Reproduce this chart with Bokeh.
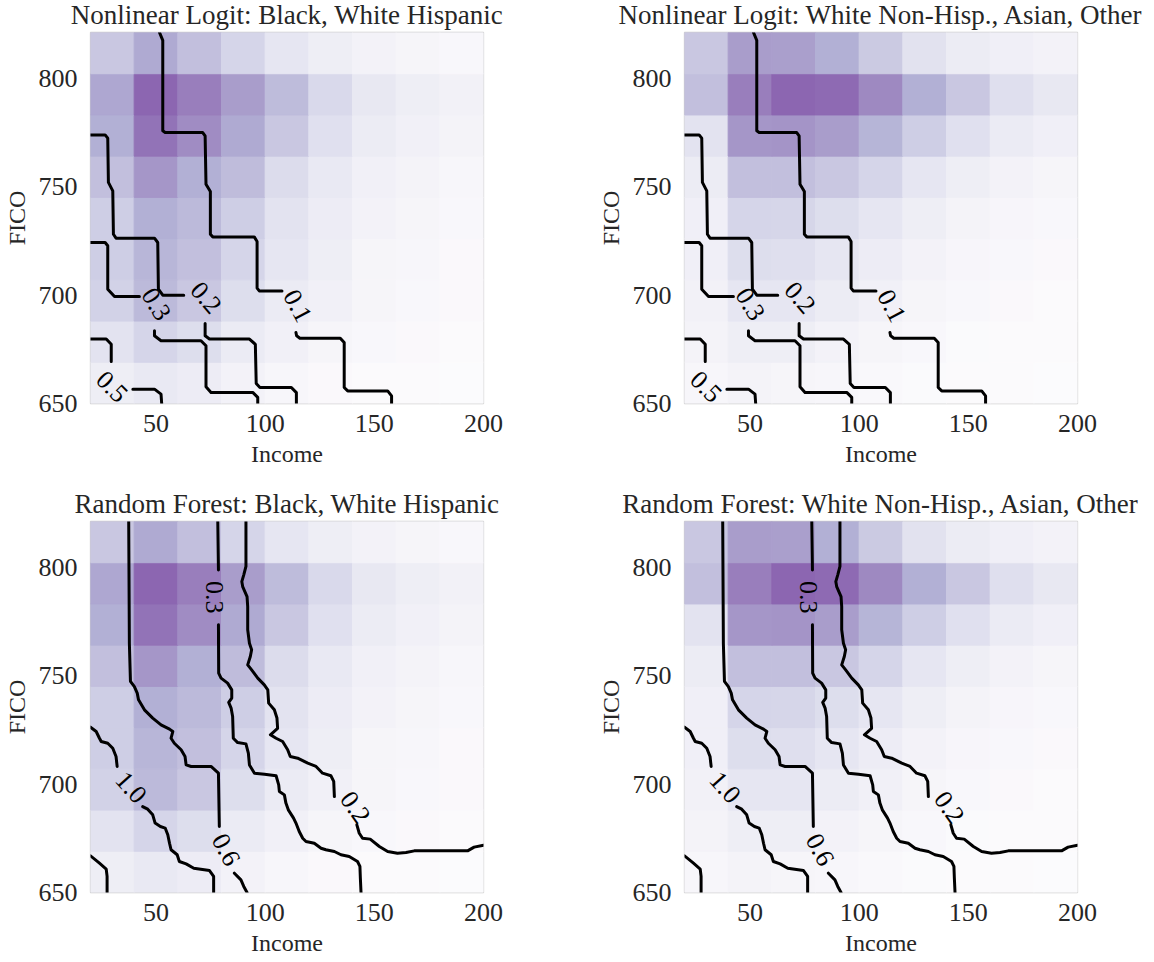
from bokeh.plotting import figure
from bokeh.models import Range1d, FixedTicker, ColumnDataSource, LinearColorMapper
from bokeh.transform import transform
from bokeh.layouts import gridplot
from bokeh.palettes import Purples256
from bokeh.embed import file_html
from bokeh.resources import INLINE
from bokeh.core.properties import value

# ---------------- data ----------------
income_edges = [20, 40, 60, 80, 100, 120, 140, 160, 180, 200]
fico_edges = [650, 669, 688, 707, 726, 745, 764, 783, 802, 821]
income_ticks = [50, 100, 150, 200]
fico_ticks = [650, 700, 750, 800]

# normalised density, rows from FICO 650 (bottom) to 821 (top), columns income 20..200
density_black_hisp = [
    [0.20, 0.25, 0.21, 0.15, 0.10, 0.06, 0.04, 0.04, 0.03],
    [0.29, 0.39, 0.33, 0.23, 0.17, 0.12, 0.08, 0.06, 0.04],
    [0.41, 0.56, 0.47, 0.33, 0.23, 0.17, 0.12, 0.08, 0.06],
    [0.43, 0.59, 0.52, 0.39, 0.27, 0.20, 0.12, 0.10, 0.06],
    [0.43, 0.63, 0.56, 0.43, 0.29, 0.21, 0.15, 0.12, 0.08],
    [0.52, 0.75, 0.63, 0.54, 0.34, 0.25, 0.17, 0.14, 0.10],
    [0.63, 0.93, 0.80, 0.66, 0.47, 0.31, 0.22, 0.17, 0.14],
    [0.67, 1.00, 0.87, 0.72, 0.55, 0.36, 0.26, 0.20, 0.16],
    [0.47, 0.66, 0.52, 0.39, 0.27, 0.20, 0.15, 0.12, 0.08],
]
density_white_asian = [
    [0.10, 0.14, 0.12, 0.10, 0.07, 0.05, 0.04, 0.04, 0.03],
    [0.14, 0.20, 0.20, 0.15, 0.12, 0.08, 0.05, 0.04, 0.04],
    [0.16, 0.27, 0.27, 0.22, 0.17, 0.12, 0.08, 0.06, 0.04],
    [0.18, 0.33, 0.32, 0.27, 0.21, 0.15, 0.11, 0.08, 0.06],
    [0.18, 0.39, 0.38, 0.33, 0.27, 0.20, 0.14, 0.11, 0.08],
    [0.22, 0.52, 0.52, 0.47, 0.39, 0.27, 0.20, 0.15, 0.12],
    [0.29, 0.75, 0.76, 0.72, 0.60, 0.43, 0.31, 0.23, 0.18],
    [0.52, 0.87, 1.00, 0.98, 0.82, 0.63, 0.47, 0.32, 0.26],
    [0.47, 0.72, 0.71, 0.63, 0.46, 0.30, 0.22, 0.18, 0.15],
]

# Nonlinear logit contours (income, FICO), each level split where its label sits
logit_c01_income = [[51.6, 53.1, 53.1, 54.2, 71.4, 72.5, 72.9, 74.9, 74.9, 76.0, 95.0, 96.3, 96.3, 97.3, 107.7],
                    [114.1, 114.4, 115.9, 134.4, 136.2, 136.2, 137.8, 156.1, 157.9, 157.9]]
logit_c01_fico = [[821, 817.4, 775.7, 774.9, 774.9, 773.4, 751.1, 747.7, 728.0, 726.8, 726.8, 724.7, 703.2, 701.9, 701.9],
                  [682.7, 681.2, 680.1, 680.1, 678.1, 657.4, 655.8, 655.8, 653.5, 650]]
logit_c02_income = [[20, 26.7, 27.9, 28.2, 30.2, 30.5, 31.7, 49.3, 50.8, 51.1, 53.1, 62.7],
                    [72.5, 72.5, 74.5, 92.8, 95.5, 95.9, 97.6, 112.0, 114.3, 114.3]]
logit_c02_fico = [[773.8, 773.8, 772.3, 751.9, 748.0, 728.0, 726.2, 726.2, 724.2, 702.7, 699.9, 699.9],
                  [686.9, 681.2, 679.7, 679.7, 677.3, 659.2, 657.4, 657.4, 655.0, 650]]
logit_c03_income = [[20, 26.7, 27.9, 27.9, 31.0, 42.4],
                    [49.3, 49.3, 52.3, 70.6, 72.9, 72.9, 75.2, 94.3, 96.6, 96.6]]
logit_c03_fico = [[724.2, 724.2, 722.7, 702.7, 699.3, 699.3],
                  [683.5, 681.2, 678.9, 678.9, 676.6, 657.7, 655.1, 655.1, 652.8, 650]]
logit_c05_income = [[20, 27.2, 29.5, 29.5], [39.4, 49.3, 52.3, 52.6]]
logit_c05_fico = [[679.7, 679.7, 677.3, 669.4], [656.6, 656.6, 654.3, 650]]
logit_label_text = ["0.1", "0.2", "0.3", "0.5"]
logit_label_income = [114.9, 72.9, 50.1, 29.8]
logit_label_fico = [695.0, 698.8, 695.8, 657.7]
logit_label_angle = [-62, -49, -58, -45]

# Random forest contours
rf_c02_income = [[91.2, 91.2, 90.2, 89.3, 89.7, 91.7, 92.0, 92.0, 92.8, 93.8, 93.2, 92.0, 93.8, 96.6, 99.6, 101.2,
                  101.6, 104.2, 105.4, 105.7, 102.4, 105.0, 108.0, 110.3, 111.5, 114.9, 119.5, 123.3, 126.3, 130.1,
                  131.4, 131.7],
                 [142.0, 143.1, 144.6, 148.1, 152.3, 156.1, 160.6, 164.5, 168.3, 192.7, 195.7, 200]]
rf_c02_fico = [[821, 800.3, 796.4, 793.3, 791.0, 786.4, 781.8, 771.1, 764.9, 761.9, 758.8, 754.9, 752.6, 748.8, 745.7,
                743.4, 737.3, 734.2, 730.4, 725.7, 722.7, 721.1, 719.6, 715.8, 712.7, 711.9, 709.6, 708.1, 705.0,
                703.8, 701.2, 694.2],
               [681.2, 677.3, 675.0, 674.6, 671.2, 668.9, 668.1, 668.4, 669.2, 669.2, 670.9, 671.8]]
rf_c03_income = [[78.3, 78.6],
                 [78.6, 78.7, 79.8, 82.8, 84.7, 84.7, 83.3, 84.4, 85.1, 85.4, 87.4, 91.2, 92.3, 92.8, 95.1, 99.7,
                  105.0, 106.2, 106.5, 108.8, 109.5, 110.6, 113.0, 114.1, 115.6, 117.2, 118.7, 122.5, 125.6, 127.8,
                  131.7, 134.7, 138.5, 142.3, 143.4, 143.6, 143.9]]
rf_c03_fico = [[821, 798.7],
               [773.4, 751.1, 748.8, 746.5, 743.4, 739.6, 737.6, 735.0, 731.1, 721.1, 719.1, 718.5, 714.2, 708.8,
                705.0, 704.5, 703.8, 699.6, 696.6, 695.0, 691.2, 688.1, 684.3, 682.0, 678.1, 675.0, 673.5, 672.7,
                670.4, 669.7, 668.9, 667.4, 666.6, 664.3, 662.0, 656.6, 650]]
rf_c06_income = [[37.5, 37.8, 38.3, 40.1, 41.4, 42.0, 44.7, 48.5, 52.3, 56.2, 57.7, 56.9, 58.4, 61.5, 63.3, 63.8,
                  66.1, 75.2, 78.6, 79.0],
                 [85.9, 88.9, 90.2, 91.7]]
rf_c06_fico = [[821, 764.9, 747.3, 744.9, 741.9, 738.8, 734.2, 730.4, 727.3, 725.3, 724.2, 721.1, 718.8, 715.8,
                712.7, 708.8, 708.1, 708.1, 705.0, 680.4],
               [658.9, 655.8, 652.8, 650]]
rf_c10_income = [[20, 22.6, 24.1, 24.9, 27.9, 30.2, 31.7, 32.2],
                 [43.9, 46.2, 48.5, 49.6, 52.0, 54.2, 55.4, 56.2, 56.9, 59.7, 60.7, 63.8, 67.3, 74.5, 76.4, 76.4]]
rf_c10_fico = [[726.2, 724.2, 721.1, 719.6, 718.8, 716.5, 712.7, 708.1],
               [689.6, 688.4, 685.8, 682.0, 680.4, 679.7, 676.6, 672.7, 669.7, 667.4, 664.3, 663.2, 661.2, 660.1,
                657.4, 650]]
rf_c_high_income = [[20, 24.1, 27.2, 27.6, 27.6]]
rf_c_high_fico = [[666.9, 663.5, 660.8, 657.4, 650]]
rf_label_text = ["0.2", "0.3", "0.6", "1.0"]
rf_label_income = [141.3, 76.7, 82.1, 38.6]
rf_label_fico = [689.2, 786.1, 669.7, 698.4]
rf_label_angle = [-55, -90, -62, -48]

titles = [
    "Nonlinear Logit: Black, White Hispanic",
    "Nonlinear Logit: White Non-Hisp., Asian, Other",
    "Random Forest: Black, White Hispanic",
    "Random Forest: White Non-Hisp., Asian, Other",
]

# ---------------- style ----------------
FONT = "Liberation Serif"
TEXT = "#262626"
TITLE_PANEL = 38   # measured height of the title band (27px text + standoff)
SHIFT = 6          # pull the whole grid up so that frames start at y=32


def blend(hexcol, alpha=0.6):
    r, g, b = int(hexcol[1:3], 16), int(hexcol[3:5], 16), int(hexcol[5:7], 16)
    f = lambda c: int(round(alpha * c + (1 - alpha) * 255))
    return "#%02x%02x%02x" % (f(r), f(g), f(b))


palette = [blend(c) for c in Purples256[::-1]]
mapper = LinearColorMapper(palette=palette, low=0, high=1)

logit_income = logit_c01_income + logit_c02_income + logit_c03_income + logit_c05_income
logit_fico = logit_c01_fico + logit_c02_fico + logit_c03_fico + logit_c05_fico
rf_income = rf_c02_income + rf_c03_income + rf_c06_income + rf_c10_income + rf_c_high_income
rf_fico = rf_c02_fico + rf_c03_fico + rf_c06_fico + rf_c10_fico + rf_c_high_fico


def make_panel(title, density, c_income, c_fico, l_text, l_inc, l_fico, l_ang,
               width, height, b_right, b_bottom):
    p = figure(width=width, height=height, output_backend="svg", toolbar_location=None,
               x_range=Range1d(income_edges[0], income_edges[-1]),
               y_range=Range1d(fico_edges[0], fico_edges[-1]),
               min_border_left=89, min_border_right=b_right, min_border_top=TITLE_PANEL,
               min_border_bottom=b_bottom,
               background_fill_color="white", border_fill_color="white")
    left, right, bottom, top, dens = [], [], [], [], []
    for r in range(len(fico_edges) - 1):
        for c in range(len(income_edges) - 1):
            left.append(income_edges[c]); right.append(income_edges[c + 1])
            bottom.append(fico_edges[r]); top.append(fico_edges[r + 1])
            dens.append(density[r][c])
    src = ColumnDataSource(dict(left=left, right=right, bottom=bottom, top=top, density=dens))
    p.quad(left="left", right="right", bottom="bottom", top="top", source=src,
           fill_color=transform("density", mapper), line_color=transform("density", mapper), line_width=1)
    p.multi_line(xs=c_income, ys=c_fico, line_color="black", line_width=3,
                 line_join="round", line_cap="round")
    lsrc = ColumnDataSource(dict(x=l_inc, y=l_fico, text=l_text, angle=l_ang))
    p.text(x="x", y="y", text="text", angle="angle", angle_units="deg", source=lsrc,
           text_font=value(FONT), text_font_size=value("26px"), text_color="black",
           text_align="center", text_baseline="middle")
    p.title.text = title
    p.title.align = "center"
    p.title.text_font = FONT
    p.title.text_font_size = "27px"
    p.title.text_font_style = "normal"
    p.title.text_color = TEXT
    p.title.standoff = 5
    p.xaxis.ticker = FixedTicker(ticks=income_ticks)
    p.yaxis.ticker = FixedTicker(ticks=fico_ticks)
    p.xaxis.axis_label = "Income"
    p.yaxis.axis_label = "FICO"
    for ax in (p.xaxis, p.yaxis):
        ax.axis_line_color = None
        ax.major_tick_line_color = None
        ax.minor_tick_line_color = None
        ax.major_tick_out = 0
        ax.major_tick_in = 0
        ax.major_label_text_font = FONT
        ax.major_label_text_font_size = "26px"
        ax.major_label_text_color = TEXT
        ax.axis_label_text_font = FONT
        ax.axis_label_text_font_size = "24px"
        ax.axis_label_text_font_style = "normal"
        ax.axis_label_text_color = TEXT
    p.xaxis.major_label_standoff = 11
    p.xaxis.axis_label_standoff = 6
    p.yaxis.major_label_standoff = 13
    p.yaxis.axis_label_standoff = 6
    p.xgrid.visible = False
    p.ygrid.visible = False
    p.outline_line_color = "#cccccc"
    p.outline_line_width = 1.3
    return p


H_TOP = 489
H_BOT = 478
p1 = make_panel(titles[0], density_black_hisp, logit_income, logit_fico, logit_label_text,
                logit_label_income, logit_label_fico, logit_label_angle, 594, H_TOP, 111, H_TOP - TITLE_PANEL - 371)
p2 = make_panel(titles[1], density_white_asian, logit_income, logit_fico, logit_label_text,
                logit_label_income, logit_label_fico, logit_label_angle, 560, H_TOP, 77, H_TOP - TITLE_PANEL - 371)
p3 = make_panel(titles[2], density_black_hisp, rf_income, rf_fico, rf_label_text,
                rf_label_income, rf_label_fico, rf_label_angle, 594, H_BOT, 111, H_BOT - TITLE_PANEL - 371)
p4 = make_panel(titles[3], density_white_asian, rf_income, rf_fico, rf_label_text,
                rf_label_income, rf_label_fico, rf_label_angle, 560, H_BOT, 77, H_BOT - TITLE_PANEL - 371)

grid = gridplot([[p1, p2], [p3, p4]], toolbar_location=None)
grid.margin = (-SHIFT, 0, 0, 0)
open("out.html", "w").write(file_html(grid, INLINE))
